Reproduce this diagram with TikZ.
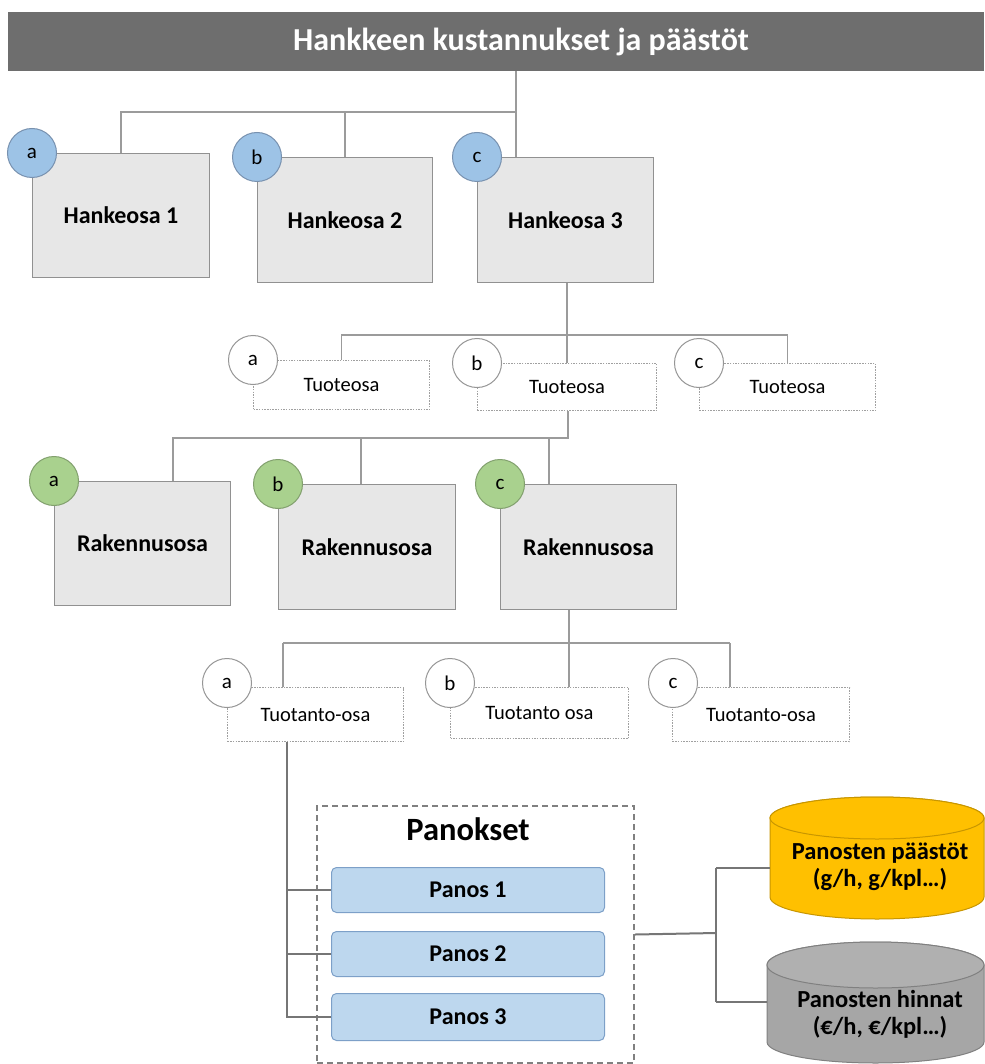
\documentclass[tikz,border=0pt]{standalone}
\usepackage{fontspec}
\setmainfont{Carlito}
\definecolor{titleg}{RGB}{110,110,110}
\definecolor{boxf}{RGB}{231,231,231}
\definecolor{boxb}{RGB}{145,145,145}
\definecolor{lineg}{RGB}{155,155,155}
\definecolor{lined}{RGB}{118,118,118}
\definecolor{dotg}{RGB}{160,160,160}
\definecolor{bluef}{RGB}{157,195,230}
\definecolor{blueb}{RGB}{120,145,175}
\definecolor{greenf}{RGB}{169,209,142}
\definecolor{greenb}{RGB}{130,160,110}
\definecolor{wcb}{RGB}{150,150,150}
\definecolor{panf}{RGB}{189,215,238}
\definecolor{panb}{RGB}{125,160,200}
\definecolor{yel}{RGB}{255,192,0}
\definecolor{yelb}{RGB}{200,150,0}
\definecolor{cylg}{RGB}{166,166,166}
\definecolor{cylgb}{RGB}{128,128,128}
\definecolor{cylgtop}{RGB}{176,176,176}
\definecolor{dashg}{RGB}{128,128,128}
\begin{document}
\begin{tikzpicture}[x=1pt,y=-1pt,
  ln/.style={draw=lineg, line width=1.3pt},
  lnd/.style={draw=lined, line width=2pt},
  gbox/.style={rectangle, draw=boxb, fill=boxf, line width=1pt, inner sep=0pt, anchor=north west,
    font=\bfseries\fontsize{24}{28}\selectfont},
  dbox/.style={rectangle, draw=dotg, fill=white, line width=1pt, dash pattern=on 1.5pt off 1.2pt,
    inner sep=0pt, anchor=north west, font=\fontsize{20.5}{24}\selectfont},
  circ/.style={circle, minimum size=49pt, inner sep=0pt, line width=1pt, font=\fontsize{21}{24}\selectfont},
  bcirc/.style={circ, fill=bluef, draw=blueb},
  gcirc/.style={circ, fill=greenf, draw=greenb},
  wcirc/.style={circ, fill=white, draw=wcb},
  panbox/.style={rectangle, rounded corners=5pt, draw=panb, fill=panf, line width=1pt, inner sep=0pt,
    anchor=north west, minimum width=273pt, font=\bfseries\fontsize{24}{28}\selectfont},
  cyltext/.style={align=center, inner sep=0pt, font=\bfseries\fontsize{24.5}{27}\selectfont}
]
\useasboundingbox (0,0) rectangle (984,1064);
\fill[white] (0,0) rectangle (984,1064);

% title
\node[rectangle, fill=titleg, anchor=north west, minimum width=976pt, minimum height=59pt, inner sep=0pt] (title) at (8,12) {};
\node[text=white, font=\bfseries\fontsize{32}{36}\selectfont] (titletxt) at (521,42) {Hankkeen kustannukset ja päästöt};

% coordinates of junctions
\coordinate (j0) at (516,112);
\coordinate (j1) at (567,335);
\coordinate (j2) at (568,438);
\coordinate (ra) at (173,438);
\coordinate (rb) at (361,438);
\coordinate (rc) at (549,438);
\coordinate (j3) at (569,643);
\coordinate (pa) at (283,643);
\coordinate (pc) at (730,643);
\coordinate (pv) at (287,742);
\coordinate (jr) at (716,933);
\coordinate (cy1) at (770,868);
\coordinate (cy2) at (767,1002);

% level 1 boxes
\node[gbox, minimum width=177pt, minimum height=124pt] (h1) at (32,153) {Hankeosa 1};
\node[gbox, minimum width=175pt, minimum height=125pt] (h2) at (257,157) {Hankeosa 2};
\node[gbox, minimum width=176pt, minimum height=125pt] (h3) at (477,157) {Hankeosa 3};

% level 2 boxes
\node[dbox, minimum width=176pt, minimum height=49pt] (t1) at (253,360) {Tuoteosa};
\node[dbox, minimum width=179pt, minimum height=47pt] (t2) at (477,363) {Tuoteosa};
\node[dbox, minimum width=176pt, minimum height=47pt] (t3) at (699,363) {Tuoteosa};

% level 3 boxes
\node[gbox, minimum width=176pt, minimum height=124pt] (r1) at (54,481) {Rakennusosa};
\node[gbox, minimum width=177pt, minimum height=125pt] (r2) at (278,484) {Rakennusosa};
\node[gbox, minimum width=176pt, minimum height=125pt] (r3) at (500,484) {Rakennusosa};

% level 4 boxes
\node[dbox, minimum width=176pt, minimum height=54pt] (p1) at (227,687) {Tuotanto-osa};
\node[dbox, minimum width=178pt, minimum height=51pt] (p2) at (450,687) {Tuotanto osa};
\node[dbox, minimum width=177pt, minimum height=54pt] (p3) at (672,687) {Tuotanto-osa};

% connectors
\draw[ln] (title.south -| j0) -- (j0) -| (h1.north);
\draw[ln] (h2.north) -- (h2.north |- j0);
\draw[ln] (j0) -- (j0 |- h3.north);

\draw[ln] (h3.south -| j1) -- (j1);
\draw[ln] (t1.north) -- (t1.north |- j1) -- (t3.north |- j1) -- (t3.north);
\draw[ln] (j1) -- (j1 |- t2.north);

\draw[ln] (t2.south -| j2) -- (j2) -- (ra) -- (ra |- r1.north);
\draw[ln] (rb) -- (rb |- r2.north);
\draw[ln] (rc) -- (rc |- r3.north);

\draw[ln] (r3.south -| j3) -- (j3);
\draw[ln] (pa) -- (pc);
\draw[ln] (pa) -- (pa |- p1.north);
\draw[ln] (j3) -- (j3 |- p2.north);
\draw[ln] (pc) -- (pc |- p3.north);

% circles
\node[bcirc] (ca1) at (h1.north west) {a};
\node[bcirc] (cb1) at (h2.north west) {b};
\node[bcirc] (cc1) at (h3.north west) {c};
\node[wcirc] (ca2) at (t1.north west) {a};
\node[wcirc] (cb2) at (t2.north west) {b};
\node[wcirc] (cc2) at (t3.north west) {c};
\node[gcirc] (ca3) at (r1.north west) {a};
\node[gcirc] (cb3) at (r2.north west) {b};
\node[gcirc] (cc3) at (r3.north west) {c};
\node[wcirc] (ca4) at (227,683) {a};
\node[wcirc] (cb4) at (450,683) {b};
\node[wcirc] (cc4) at (673,683) {c};

% Panokset group
\node[rectangle, draw=dashg, line width=2pt, dash pattern=on 6pt off 4pt, anchor=north west,
  minimum width=317pt, minimum height=257pt, inner sep=0pt] (panokset) at (316,805) {};
\node[font=\bfseries\fontsize{32.5}{36}\selectfont] (panoksettxt) at (468,829) {Panokset};
\node[panbox, minimum height=45pt] (panos1) at (331,867) {Panos 1};
\node[panbox, minimum height=45pt] (panos2) at (331,931) {Panos 2};
\node[panbox, minimum height=47pt] (panos3) at (331,993) {Panos 3};

\draw[lnd] (p1.south -| pv) |- (panos3.west);
\draw[lnd] (pv |- panos1.west) -- (panos1.west);
\draw[lnd] (pv |- panos2.west) -- (panos2.west);

% cylinders
\path[fill=yel, draw=yelb, line width=1pt] (770,818) -- (770,897)
  arc[start angle=180, end angle=360, x radius=107pt, y radius=22pt] -- (984,818)
  arc[start angle=0, end angle=180, x radius=107pt, y radius=21pt] -- cycle;
\draw[fill=yel, draw=yelb, line width=1pt] (877,818) ellipse [x radius=107pt, y radius=21pt];
\node[cyltext] (cyl1) at (880,867) {Panosten päästöt\\(g/h, g/kpl…)};

\path[fill=cylg, draw=cylgb, line width=1pt] (767,965) -- (767,1042)
  arc[start angle=180, end angle=360, x radius=108.5pt, y radius=21pt] -- (984,965)
  arc[start angle=0, end angle=180, x radius=108.5pt, y radius=23pt] -- cycle;
\draw[fill=cylgtop, draw=cylgb, line width=1pt] (875.5,965) ellipse [x radius=108.5pt, y radius=23pt];
\node[cyltext] (cyl2) at (880,1014) {Panosten hinnat\\(€/h, €/kpl…)};

\draw[lnd] (panokset.east) -- (jr);
\draw[lnd] (jr |- cy1) -- (jr |- cy2);
\draw[lnd] (jr |- cy1) -- (cy1);
\draw[lnd] (jr |- cy2) -- (cy2);
\end{tikzpicture}
\end{document}
